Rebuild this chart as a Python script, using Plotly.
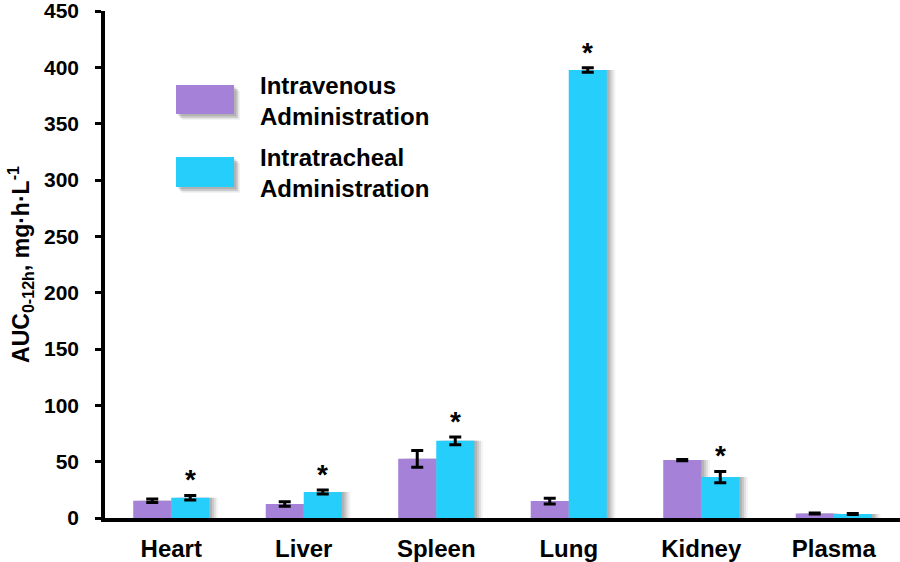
import plotly.graph_objects as go

categories = ["Heart", "Liver", "Spleen", "Lung", "Kidney", "Plasma"]
iv_values = [15.3, 12.4, 52.5, 15.0, 51.4, 4.0]
iv_errors = [1.5, 2.0, 7.5, 2.5, 0.6, 0.5]
it_values = [18.0, 23.0, 68.5, 397.7, 36.3, 3.6]
it_errors = [2.0, 1.8, 3.5, 2.0, 5.0, 0.5]
significant = [True, True, True, True, True, False]
y_ticks = [0, 50, 100, 150, 200, 250, 300, 350, 400, 450]

PURPLE = "#A582D7"
CYAN = "#25CEFB"
FONT = "Liberation Sans"
W = 0.287

fig = go.Figure()

# soft drop shadows
for vals, off in [(iv_values, -W), (it_values, 0.0)]:
    for dx, op in [(0.065, 0.08), (0.05, 0.12), (0.035, 0.16), (0.02, 0.2)]:
        fig.add_trace(go.Bar(x=categories, y=vals, width=W, offset=off + dx,
                             marker=dict(color=f"rgba(90,90,90,{op})", line=dict(width=0)),
                             showlegend=False, hoverinfo="skip"))

fig.add_trace(go.Bar(x=categories, y=iv_values, width=W, offset=-W,
                     name="Intravenous Administration",
                     marker=dict(color=PURPLE, line=dict(width=0)),
                     error_y=dict(type="data", array=iv_errors, color="black",
                                  thickness=3, width=6),
                     showlegend=False))
fig.add_trace(go.Bar(x=categories, y=it_values, width=W, offset=0,
                     name="Intratracheal Administration",
                     marker=dict(color=CYAN, line=dict(width=0)),
                     error_y=dict(type="data", array=it_errors, color="black",
                                  thickness=3, width=6),
                     showlegend=False))

for i, cat in enumerate(categories):
    if significant[i]:
        fig.add_annotation(x=i + W / 2, y=it_values[i] + it_errors[i], xref="x", yref="y",
                           text="*", showarrow=False, yanchor="bottom", yshift=-2,
                           font=dict(family=FONT, size=28, color="black", weight="bold"))

# custom legend (paper coordinates)
legend_items = [("Intravenous<br>Administration", PURPLE, 0.797, 0.854, 0.8225),
                ("Intratracheal<br>Administration", CYAN, 0.653, 0.712, 0.680)]
for text, color, y0, y1, yt in legend_items:
    for d, op in [(0.007, 0.15), (0.005, 0.2), (0.003, 0.25)]:
        fig.add_shape(type="rect", xref="paper", yref="paper",
                      x0=0.0893 + d, x1=0.1623 + d, y0=y0 - 1.6 * d, y1=y1 - 1.6 * d,
                      fillcolor=f"rgba(100,100,100,{op})", line=dict(width=0), layer="above")
    fig.add_shape(type="rect", xref="paper", yref="paper",
                  x0=0.0893, x1=0.1623, y0=y0, y1=y1,
                  fillcolor=color, line=dict(width=0), layer="above")
    fig.add_annotation(xref="paper", yref="paper", x=0.193, y=yt, text=text,
                       showarrow=False, xanchor="left", yanchor="middle", align="left",
                       font=dict(family=FONT, size=24, color="black", weight="bold"))

fig.update_layout(
    width=900, height=562,
    margin=dict(l=105, r=0, t=11, b=44),
    paper_bgcolor="white", plot_bgcolor="white",
    barmode="overlay",
    showlegend=False,
    xaxis=dict(showline=True, linecolor="black", linewidth=3.5, ticks="",
               ticklabelstandoff=6,
               tickfont=dict(family=FONT, size=24, color="black", weight="bold"),
               range=[-0.5, 5.5], showgrid=False, zeroline=False,
               tickmode="array", tickvals=list(range(len(categories))), ticktext=categories),
    yaxis=dict(range=[0, 450], showline=True, linecolor="black", linewidth=3.5,
               tickvals=y_ticks, ticks="outside", ticklen=6, tickwidth=3, tickcolor="black",
               ticklabelstandoff=12, ticklabeloverflow="allow",
               tickfont=dict(family=FONT, size=21, color="black", weight="bold"),
               showgrid=False, zeroline=False,
               title=dict(text="AUC<sub>0-12h</sub>, mg·h·L<sup>-1</sup>", standoff=9,
                          font=dict(family=FONT, size=23, color="black", weight="bold"))),
)

fig.write_html("out.html", config={"displayModeBar": False},
               post_script="document.body.style.margin='0';document.body.style.overflow='hidden';")
